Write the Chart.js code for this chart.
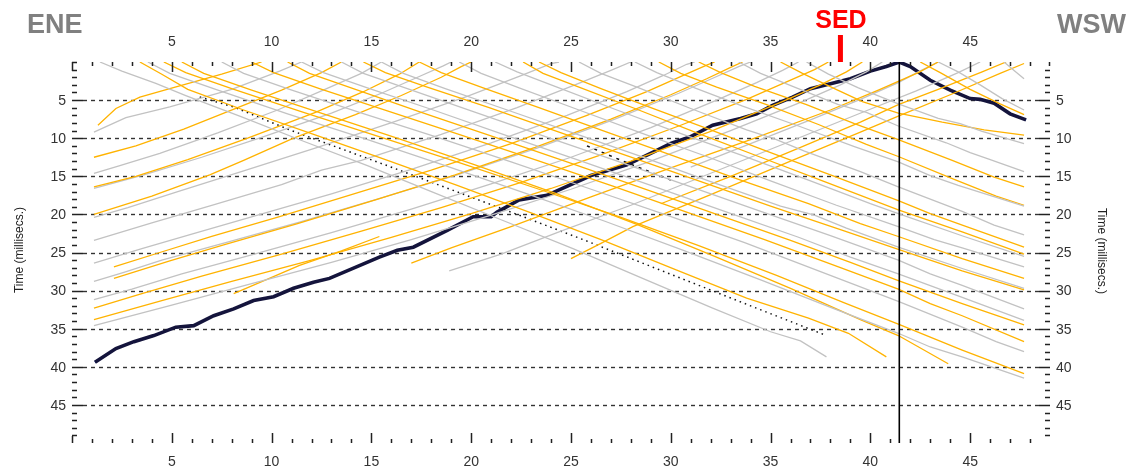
<!DOCTYPE html>
<html>
<head>
<meta charset="utf-8">
<script src="https://cdn.jsdelivr.net/npm/chart.js@4.4.1/dist/chart.umd.min.js"></script>
<style>
  html, body { margin: 0; padding: 0; background: #fff; }
  #wrap { width: 1137px; height: 472px; }
</style>
</head>
<body>
<div id="wrap"><canvas id="c" width="1137" height="472"></canvas></div>
<script>
// travel-time picks, [geophone position, time in ms]
const xTickLabels = [5, 10, 15, 20, 25, 30, 35, 40, 45];
const yTickLabels = [5, 10, 15, 20, 25, 30, 35, 40, 45];
const shotX = 41.45;
const sedX = 38.5;

const blueTrace = [
  [1.15, 39.4], [2.2, 37.6], [3.1, 36.7], [4.1, 35.9], [5.2, 34.8], [6.1, 34.6], [7.1, 33.3],
  [8.1, 32.4], [9.1, 31.3], [10.1, 30.8], [11.1, 29.7], [12.1, 28.9], [12.9, 28.4], [15.4, 25.6],
  [16.3, 24.7], [17.1, 24.3], [18.8, 22.1], [20.1, 20.3], [21, 20.3], [21.3, 19.7], [22.4, 18.1],
  [23.8, 17.5], [26, 14.9], [27.8, 13.5], [29.3, 11.6], [30, 10.7], [31, 9.8], [32.1, 8.3],
  [33.5, 7.4], [34.3, 6.8], [35.1, 5.7], [36.1, 4.6], [37, 3.5], [38.1, 2.8], [39, 2.2],
  [40, 1.2], [40.8, 0.6], [41.45, 0], [42, 0.6], [43, 2.4], [44, 3.7], [45, 4.8], [45.5, 4.9],
  [46.2, 5.4], [47, 6.8], [47.8, 7.6]
];

const dottedTrace = [
  [6.4, 4.6], [8.1, 5.9], [10.9, 8.9], [16.1, 13.9], [22.1, 19.8], [25.7, 23.4], [33.9, 31.9], [37.8, 35.9]
];
const dottedTrace2 = [[25.8, 11], [27.5, 12.9], [30, 15.5]];

const grayTraces = [
  [[36.8, 0], [37.9, 1.6], [39.4, 3.4], [41.4, 5.5], [43.4, 7.4], [44.5, 8.1], [45.6, 9.1], [47.7, 10.7]],
  [[33.4, 0], [34.5, 1.5], [36.2, 3.3], [38.4, 5.6], [39.8, 6.6], [41.4, 8.4], [43.8, 10.6], [45, 11.9], [45.9, 12.7], [47.7, 14.4]],
  [[28.2, 0], [29.3, 1.4], [31.2, 3.4], [33.6, 5.8], [36.4, 8.4], [39.2, 11.1], [41.4, 13.1], [43, 14.9], [44.4, 16.2], [47.7, 18.9]],
  [[25.4, 0], [26.5, 1.5], [28.4, 3.4], [31, 6.1], [33.8, 8.9], [35.2, 10.1], [36.7, 11.7], [39.5, 14.4], [41.4, 16.4], [44.6, 19.6], [46.2, 21.4], [47.7, 22.7]],
  [[21.2, 0], [22.3, 1.3], [24.3, 3.3], [27.2, 6.2], [30.3, 9.2], [33.6, 12.3], [36.9, 15.5], [40, 18.6], [41.4, 19.9], [44.7, 22.9], [47.7, 25.5]],
  [[19.4, 0], [20.5, 1.5], [22.4, 3.4], [25.3, 6.2], [28.5, 9.3], [31.8, 12.4], [35, 15.6], [38.3, 18.8], [41.4, 21.6], [43.2, 23.3], [44.6, 24.4], [47.7, 26.9]],
  [[15.5, 0], [16.6, 1.5], [18.7, 3.5], [21.7, 6.2], [25.1, 9.3], [28.5, 12.4], [32, 15.7], [35.5, 18.9], [37.2, 20.1], [38.8, 21.8], [41.4, 24.3], [44.6, 27.1], [47.7, 29.7]],
  [[13.5, 0], [14.6, 1.5], [16.8, 3.5], [20, 6.4], [23.5, 9.6], [27.1, 12.8], [30.8, 16.2], [34.4, 19.5], [38, 22.8], [41.4, 26], [43, 27.8], [44.6, 29.3], [47.7, 32.4]],
  [[11.5, 0], [12.6, 1.4], [14.8, 3.4], [18.1, 6.3], [21.6, 9.5], [25.3, 12.8], [29, 16.2], [32.7, 19.6], [36.4, 23], [39, 25.6], [41.4, 27.8], [44.6, 30.9], [47.7, 33.9]],
  [[7.5, 0], [8.6, 1.5], [10.9, 3.6], [14.4, 6.6], [18.2, 9.8], [22, 13.1], [25.9, 16.6], [29.8, 20.1], [33.7, 23.7], [37.6, 27.6], [41.4, 31.4], [44.6, 34.8], [46.3, 36.7], [47.7, 38]],
  [[3.8, 0], [4.9, 1.5], [7.2, 3.6], [10.8, 6.8], [14.7, 10.1], [18.7, 13.6], [22.7, 17.2], [26.7, 20.9], [30.7, 24.8], [34.6, 28.7], [38.2, 32.4], [41.4, 35.6], [43, 37.4], [44.6, 38.7], [47.7, 41.5]],
  [[1.4, 0], [2.5, 1.2], [4.2, 2.8], [5.7, 4.4], [8.5, 7.2], [11.6, 10.4], [14.8, 13.6], [18.1, 17.1], [21.5, 20.7], [25.1, 24.5], [28.5, 28.3], [32.1, 32.3], [35, 35.4], [36.5, 36.6], [37.8, 38.7]],
  [[43.4, 0], [44.4, 1.3], [45.5, 3], [46.6, 4.8], [47.7, 6.3]],
  [[46.7, 0], [47.2, 1.1], [47.7, 2.2]],
  [[11.5, 0], [10.4, 1.2], [8, 3.6], [4.9, 5.9], [2.7, 7.3], [1.1, 9.2]],
  [[15.5, 0], [14.5, 1.5], [12.5, 3.8], [10.3, 6.3], [7.3, 9.3], [4.4, 12], [2.4, 13.6], [1.1, 14.6]],
  [[19, 0], [18.6, 0.5], [17.4, 1.9], [15.5, 4.1], [13, 6.7], [9.5, 9.9], [6.5, 12.5], [3.6, 14.8], [1.1, 16.6]],
  [[24.4, 0], [24, 0.2], [22.5, 1.8], [19.8, 4.5], [16.2, 7.8], [12.3, 11.2], [8.6, 14.3], [5.3, 17], [2.8, 19.1], [1.1, 20.4]],
  [[28, 0], [27, 1.1], [25.2, 3], [22.3, 6], [18.5, 9.5], [14.5, 12.9], [12.5, 14.2], [10.5, 16.1], [7, 18.8], [4, 21.1], [1.1, 23.4]],
  [[31.2, 0], [30.8, 0.3], [29.6, 1.8], [27.8, 3.9], [24.8, 7], [21, 10.6], [17, 14.1], [13, 17.3], [9.3, 20.1], [6, 22.6], [3.5, 24.5], [1.1, 26.4]],
  [[34, 0], [33.4, 0.6], [32.3, 1.9], [30.4, 4.1], [27.2, 7.5], [23.3, 11.3], [19.3, 14.8], [15.3, 18], [11.4, 21], [7.7, 23.7], [4.5, 26], [2.6, 27.6], [1.1, 28.8]],
  [[36.4, 0], [35.6, 1.1], [34.3, 2.7], [32.3, 5], [29, 8.6], [25, 12.5], [21, 16], [17, 19.3], [13, 22.4], [9, 25.3], [5.5, 27.8], [3, 29.8], [1.1, 31.2]],
  [[40.6, 0], [39.8, 1.3], [38.5, 3], [36.5, 5.3], [33, 9], [29, 13], [25, 16.7], [21, 20.1], [17, 23.3], [13, 26.3], [9, 29.1], [5, 31.9], [1.1, 34.6]],
  [[45.5, 0], [44.4, 1.4], [42.3, 3.8], [39.8, 6.4], [36, 10.4], [32, 14.6], [28, 18.8], [24.5, 22.2], [21.5, 25.2], [18.9, 27.4]],
  [[43.4, 0], [42.4, 1.3], [41.4, 2.7], [39.5, 4.9], [37, 7.6], [34, 10.7], [31, 13.8]]
];

const orangeTraces = [
  [[35.5, 0], [36.6, 1.5], [38.2, 3.5], [39.6, 5.2], [41.4, 6.7], [43.6, 7.9], [45.7, 8.9], [47.7, 9.6]],
  [[31.4, 0], [32.5, 1.4], [34.2, 3.2], [36.8, 5.6], [39.2, 8.1], [41.4, 10.2], [44.1, 12.9], [46.2, 15.1], [47.7, 16.4]],
  [[29.4, 0], [30.5, 1.5], [32.3, 3.3], [34.8, 5.6], [37.4, 8.2], [39.8, 10.8], [41.4, 12.4], [44.2, 15.4], [46.3, 17.6], [47.7, 18.8]],
  [[23.4, 0], [24.5, 1.4], [26.5, 3.5], [29.1, 6.1], [32, 8.9], [35, 11.9], [38, 14.8], [41.4, 18.2], [43, 19.9], [44.5, 21.3], [47.7, 24.3]],
  [[22.6, 0], [23.6, 1.5], [25.4, 3.3], [28.3, 6.2], [31.4, 9.4], [34.6, 12.6], [37.8, 15.8], [41.4, 19.4], [44.6, 22.3], [47.7, 25.2]],
  [[17.4, 0], [18.5, 1.4], [20.6, 3.4], [23.5, 6.1], [26.8, 9.2], [30.1, 12.3], [33.5, 15.5], [36.9, 18.6], [39.5, 21.2], [41.4, 22.9], [44.6, 25.8], [47.7, 28.4]],
  [[14.6, 0], [15.7, 1.4], [17.8, 3.3], [20.9, 6], [24.4, 9.2], [27.9, 12.4], [31.4, 15.6], [35, 18.9], [38.5, 22], [41.4, 24.6], [44.6, 27.4], [47.7, 29.9]],
  [[10.8, 0], [11.9, 1.5], [14.2, 3.6], [17.5, 6.6], [21.1, 9.8], [24.8, 13.1], [28.5, 16.5], [32.3, 20], [36, 23.4], [39, 26.3], [41.4, 28.7], [44.6, 31.7], [47.7, 34.5]],
  [[9, 0], [10.1, 1.4], [12.4, 3.5], [15.8, 6.4], [19.5, 9.6], [23.3, 12.9], [27.1, 16.3], [30.9, 19.8], [34.7, 23.3], [38.4, 26.9], [41.4, 29.8], [43, 31.7], [44.6, 33.3], [47.7, 36.7]],
  [[4.6, 0], [5.7, 1.4], [8, 3.5], [11.6, 6.6], [15.5, 9.9], [19.4, 13.2], [23.4, 16.7], [27.4, 20.3], [31.4, 24.1], [35.3, 28], [38.7, 31.6], [41.4, 34.4], [44.6, 37.8], [47.7, 40.9]],
  [[3.4, 0], [4.5, 1.6], [5.8, 3.6], [8.6, 6.3], [12, 9.4], [15.6, 12.7], [19.3, 16.2], [23, 19.8], [26.7, 23.5], [30.3, 27.3], [33.8, 31], [36.9, 33.6], [38.9, 35.6], [40.8, 38.7]],
  [[5.5, 0], [6.6, 1.5], [9, 3.7], [12.6, 6.8], [16.4, 10.1], [20.3, 13.6], [24.3, 17.3], [28.3, 21.3], [32.2, 25.5], [36, 29.7], [39.5, 33.8], [41.4, 35.9], [43.9, 39.6]],
  [[42.5, 0], [43.5, 1.4], [45, 3.6], [46.5, 5.5], [47.7, 6.9]],
  [[9.5, 0], [7.5, 1.6], [4.9, 3.5], [3.4, 4.6], [2.2, 6.1], [1.3, 8.3]],
  [[13.5, 0], [12.5, 1.4], [10.5, 3.7], [8.3, 6], [5.6, 8.8], [3.2, 11], [1.1, 12.5]],
  [[17.4, 0], [16.4, 1.6], [14.6, 3.9], [12.2, 6.6], [8.8, 10], [5.8, 12.8], [3.2, 15], [1.1, 16.4]],
  [[20, 0], [19.5, 0.6], [18.5, 2], [16.5, 4.4], [14.2, 6.9], [11.1, 10], [8.6, 12.9], [6.9, 14.8], [4, 17.6], [1.1, 20]],
  [[32.2, 0], [31.8, 0.4], [30.6, 1.8], [28.8, 3.9], [25.8, 7], [22, 10.7], [18, 14.2], [14, 17.4], [10.4, 20.3], [7, 22.9], [4.4, 25], [2.1, 26.9]],
  [[33.6, 0], [33, 0.7], [31.8, 2.2], [30, 4.3], [27, 7.5], [23.2, 11.2], [19.2, 14.8], [15.2, 18.1], [11.3, 21.2], [7.6, 24], [4.9, 26.1], [2.1, 28.4]],
  [[37.9, 0], [37.2, 1], [35.8, 2.6], [33.8, 4.9], [30.5, 8.3], [26.5, 12.2], [22.5, 15.8], [18.5, 19.1], [14.5, 22.2], [10.5, 25.2], [6.5, 28.1], [3.5, 30.4], [1.1, 32.3]],
  [[39.6, 0], [38.8, 1.3], [37.5, 3], [35.5, 5.3], [32, 9.1], [28, 13], [24, 16.6], [20, 19.9], [16, 23], [12, 26], [8, 28.8], [4.5, 31.3], [1.1, 33.8]],
  [[43.4, 0], [42.4, 1.4], [40.4, 3.7], [38, 6.3], [34, 10.2], [30, 13.9], [26, 17.7], [22, 21.6], [19, 24.4], [17, 26.4]],
  [[47.7, 0.2], [46.5, 1.5], [44, 4.3], [41.4, 7.1], [39.5, 9.2], [36, 13], [32, 17.4], [28.1, 21.6], [26.5, 23.8], [25, 25.8]],
  [[46.8, 0], [45.6, 1.3], [43.4, 3.6], [41.4, 5.6], [39.5, 7.9], [36.5, 11.2], [33, 15], [29.5, 18.6]],
  [[15.4, 22.9], [13.5, 24.8], [11.4, 26.7], [9.8, 28.5], [8.1, 30.4]]
];

const GRAY = "#c2c2c2";
const ORANGE = "#ffb300";

function toPoints(trace) {
  return trace.map(p => ({ x: p[0], y: p[1] }));
}

function traceSet(trace, color, width, dash) {
  return {
    data: toPoints(trace),
    borderColor: color,
    borderWidth: width,
    borderDash: dash || [],
    pointRadius: 0,
    tension: 0,
    fill: false
  };
}

const datasets = [];
grayTraces.forEach((t, i) => {
  datasets.push(traceSet(t, GRAY, 1.3));
  if (orangeTraces[i]) datasets.push(traceSet(orangeTraces[i], ORANGE, 1.3));
});
orangeTraces.slice(grayTraces.length).forEach(t => datasets.push(traceSet(t, ORANGE, 1.3)));
datasets.push(traceSet(dottedTrace, "#111", 1.5, [1.5, 4]));
datasets.push(traceSet(dottedTrace2, "#111", 1.5, [3, 5]));
datasets.push(traceSet(blueTrace, "#14143c", 3.6));
datasets.push(traceSet(blueTrace, "#1a4ae0", 1.8));

const labelFont = "14px 'Liberation Sans', Arial, sans-serif";
const textDark = "#333";

const framePlugin = {
  id: "framePlugin",
  beforeDatasetsDraw(chart) {
    const { ctx } = chart;
    const xs = chart.scales.x, ys = chart.scales.y;
    ctx.save();
    ctx.strokeStyle = "#333";
    ctx.lineWidth = 1.4;
    ctx.setLineDash([4, 4]);
    yTickLabels.forEach(v => {
      const py = Math.round(ys.getPixelForValue(v)) + 0.5;
      ctx.beginPath();
      ctx.moveTo(xs.left + 11, py);
      ctx.lineTo(xs.right - 11, py);
      ctx.stroke();
    });
    ctx.restore();
  },
  afterDatasetsDraw(chart) {
    const { ctx } = chart;
    const xs = chart.scales.x, ys = chart.scales.y;
    const L = xs.left, R = xs.right, T = ys.top, B = ys.bottom;
    ctx.save();

    // shot marker line
    const sx = xs.getPixelForValue(shotX);
    ctx.strokeStyle = "#000";
    ctx.lineWidth = 1.6;
    ctx.beginPath();
    ctx.moveTo(sx, T);
    ctx.lineTo(sx, B);
    ctx.stroke();

    // inward ticks on all four sides
    ctx.strokeStyle = "#222";
    ctx.lineWidth = 1.5;
    ctx.beginPath();
    for (let v = 1; v <= 48; v++) {
      const px = Math.round(xs.getPixelForValue(v)) + 0.5;
      const len = v % 5 === 0 ? 10 : 4;
      ctx.moveTo(px, T); ctx.lineTo(px, T + len);
      ctx.moveTo(px, B); ctx.lineTo(px, B - len);
    }
    for (let v = 1; v <= 49; v++) {
      const py = Math.round(ys.getPixelForValue(v)) + 0.5;
      const len = v % 5 === 0 ? 11 : 5;
      ctx.moveTo(L, py); ctx.lineTo(L + len, py);
      ctx.moveTo(R, py); ctx.lineTo(R - len, py);
    }
    ctx.moveTo(L + 0.5, T); ctx.lineTo(L + 0.5, T + 9);
    ctx.moveTo(L, T + 0.5); ctx.lineTo(L + 5, T + 0.5);
    ctx.moveTo(L + 0.5, B); ctx.lineTo(L + 0.5, B - 7);
    ctx.moveTo(R - 0.5, T); ctx.lineTo(R - 0.5, T + 4);
    ctx.stroke();

    // tick labels
    ctx.fillStyle = textDark;
    ctx.font = labelFont;
    ctx.textAlign = "center";
    ctx.textBaseline = "middle";
    xTickLabels.forEach(v => {
      const px = xs.getPixelForValue(v);
      ctx.fillText(String(v), px, 42);
      ctx.fillText(String(v), px, 462);
    });
    yTickLabels.forEach(v => {
      const py = ys.getPixelForValue(v);
      ctx.textAlign = "right";
      ctx.fillText(String(v), L - 6, py + 1);
      ctx.textAlign = "left";
      ctx.fillText(String(v), R + 6, py + 1);
    });

    // axis titles
    ctx.font = "12px 'Liberation Sans', Arial, sans-serif";
    ctx.fillStyle = "#222";
    ctx.textAlign = "center";
    ctx.save();
    ctx.translate(20, 250);
    ctx.rotate(-Math.PI / 2);
    ctx.fillText("Time (millisecs.)", 0, 0);
    ctx.restore();
    ctx.save();
    ctx.translate(1101, 251);
    ctx.rotate(Math.PI / 2);
    ctx.fillText("Time (millisecs.)", 0, 0);
    ctx.restore();

    // direction labels
    ctx.font = "bold 27px 'Liberation Sans', Arial, sans-serif";
    ctx.fillStyle = "#808080";
    ctx.textBaseline = "alphabetic";
    ctx.textAlign = "left";
    ctx.fillText("ENE", 27, 33);
    ctx.fillText("WSW", 1057, 33);

    // SED marker
    const sedPx = xs.getPixelForValue(sedX);
    ctx.fillStyle = "#ff0000";
    ctx.font = "bold 25px 'Liberation Sans', Arial, sans-serif";
    ctx.textAlign = "center";
    ctx.fillText("SED", sedPx + 0.5, 28);
    ctx.fillRect(sedPx - 2.5, 35, 5, 27);

    ctx.restore();
  }
};

new Chart(document.getElementById("c"), {
  type: "line",
  data: { datasets },
  plugins: [framePlugin],
  options: {
    responsive: false,
    animation: false,
    parsing: true,
    layout: { padding: { left: 72, right: 87, top: 62, bottom: 29 } },
    plugins: { legend: { display: false }, tooltip: { enabled: false } },
    scales: {
      x: { type: "linear", min: 0, max: 49, display: false },
      y: { type: "linear", min: 0, max: 50, reverse: true, display: false }
    }
  }
});
</script>
</body>
</html>
